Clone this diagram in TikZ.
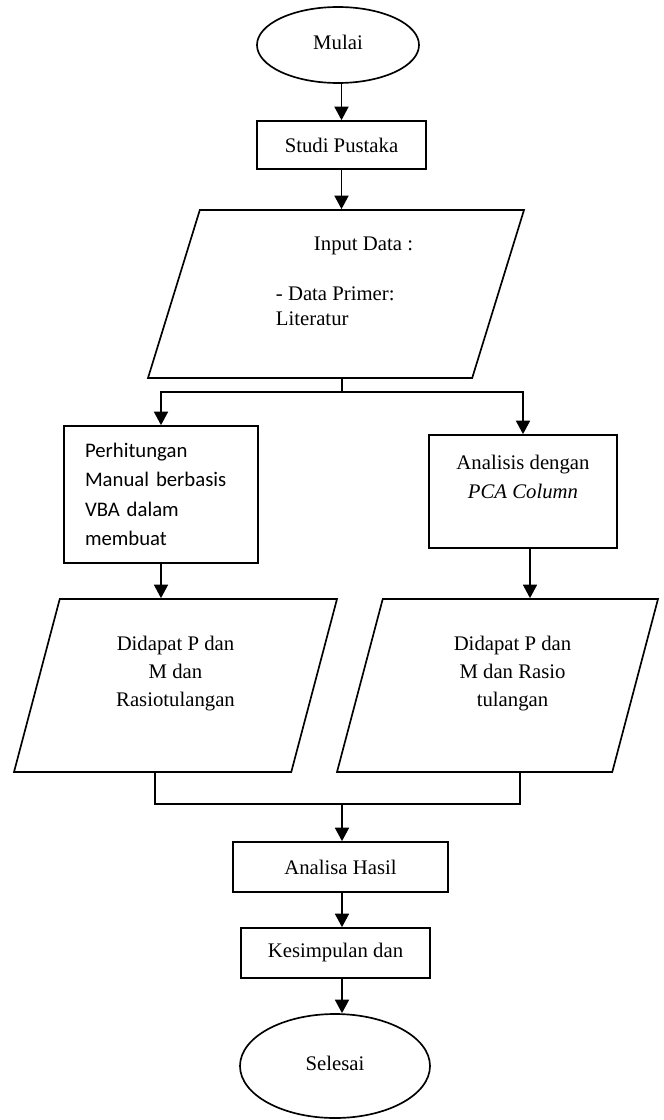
\documentclass[tikz,border=0pt]{standalone}
\usepackage{fontspec}
\setmainfont{Liberation Serif}
\newfontfamily\calibrifont{Carlito}
\usetikzlibrary{shapes,arrows.meta,positioning}
\tikzstyle{startstop} = [ellipse, draw=black, line width=0.95pt, inner sep=0pt]
\tikzstyle{process}   = [rectangle, draw=black, line width=0.95pt, text centered]
\tikzstyle{io}        = [trapezium, trapezium left angle=67.5, trapezium right angle=112.5, trapezium stretches body, draw=black, line width=0.95pt, align=center]
\tikzstyle{arrow}     = [line width=0.95pt,-{Triangle[length=0.27cm,width=0.28cm]}]

\begin{document}
\begin{tikzpicture}[font=\fontsize{11.8}{14.2}\selectfont]
		\useasboundingbox (0,0) rectangle (13.28,-22.4);

		\node[startstop, minimum width=3.24cm, minimum height=1.52cm] (mulai) at (6.76,-0.90) {\raisebox{0.1cm}{Mulai}};
		\node[process, minimum width=3.38cm, minimum height=0.96cm] (studi) at (6.83,-2.90) {Studi Pustaka};
		\node[io, minimum width=7.52cm, minimum height=3.36cm, align=left] (input) at (6.72,-5.88)
			{\hspace*{1.1cm}Input Data :\\\mbox{}\\\hspace*{0.34cm}- Data Primer:\\\hspace*{0.34cm}Literatur\\\mbox{}};

		\node[process, minimum width=3.88cm, minimum height=2.74cm, text width=3.04cm, align=left,
			font=\calibrifont\fontsize{11.8}{16.8}\selectfont] (perhitungan) at (3.22,-9.89)
			{Perhitungan\\Manual berbasis\\VBA dalam\\membuat};
		\node[process, minimum width=3.76cm, minimum height=2.26cm, align=center,
			font=\fontsize{11.8}{16.5}\selectfont] (analisis) at (10.46,-9.83)
			{Analisis dengan\\\textit{PCA Column}\\\mbox{}};

		\node[io, minimum width=6.46cm, minimum height=3.46cm, font=\fontsize{11.8}{16}\selectfont] (hasilkiri) at (3.51,-13.71)
			{Didapat P dan\\M dan\\Rasiotulangan\\\mbox{}};
		\node[io, minimum width=6.42cm, minimum height=3.46cm, font=\fontsize{11.8}{16}\selectfont] (hasilkanan) at (9.95,-13.71)
			{\hspace*{0.6cm}Didapat P dan\\\hspace*{0.6cm}M dan Rasio\\\hspace*{0.6cm}tulangan\\\mbox{}};

		\node[process, minimum width=4.30cm, minimum height=1.00cm] (analisa) at (6.81,-17.34) {Analisa Hasil};
		\node[process, minimum width=3.78cm, minimum height=1.00cm] (kesimpulan) at (6.71,-19.06) {Kesimpulan dan};
		\node[startstop, minimum width=3.80cm, minimum height=2.08cm] (selesai) at (6.70,-21.32) {\raisebox{0.1cm}{Selesai}};

		\coordinate (cabang) at (6.84,-7.84);
		\coordinate (gabung) at (6.84,-16.08);

		\draw[arrow] (studi.north |- mulai.south) -- (studi.north);
		\draw[arrow] (studi.south) -- (studi.south |- input.north);

		\draw[line width=0.95pt] (cabang |- input.south) -- (cabang);
		\draw[arrow] (cabang) -| (perhitungan.north);
		\draw[arrow] (cabang) -| (analisis.north);

		\draw[arrow] (perhitungan.south) -- (perhitungan.south |- hasilkiri.north);
		\draw[arrow] ([xshift=0.14cm]analisis.south) -- ([xshift=0.14cm]analisis.south |- hasilkanan.north);

		\draw[line width=0.95pt] ([xshift=-0.41cm]hasilkiri.south) |- (gabung) -| ([xshift=0.45cm]hasilkanan.south);
		\draw[arrow] (gabung) -- (gabung |- analisa.north);

		\draw[arrow] (gabung |- analisa.south) -- (gabung |- kesimpulan.north);
		\draw[arrow] (gabung |- kesimpulan.south) -- (gabung |- selesai.north);
	\end{tikzpicture}
\end{document}
